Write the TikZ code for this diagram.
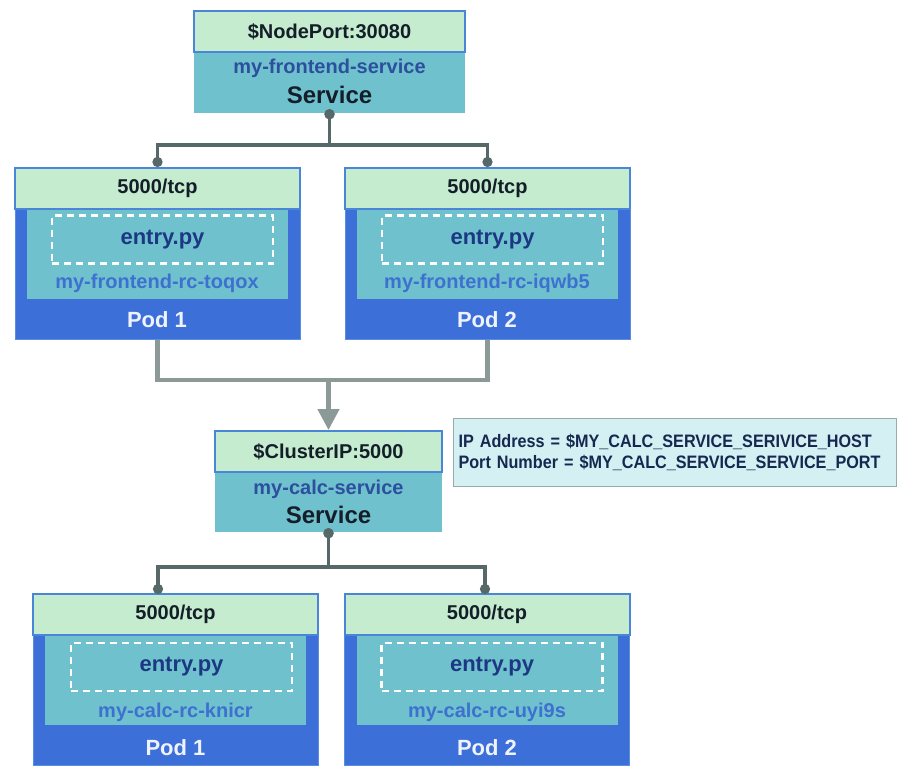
\documentclass[tikz,border=0pt]{standalone}
\usepackage{fontspec}
\setmainfont{Liberation Sans}
\newfontfamily\condfont[FakeStretch=0.9]{Liberation Sans}
\usetikzlibrary{arrows.meta}

\definecolor{portgreen}{RGB}{198,236,208}
\definecolor{portedge}{RGB}{74,134,216}
\definecolor{svcteal}{RGB}{112,193,206}
\definecolor{podblue}{RGB}{61,111,216}
\definecolor{podedge}{RGB}{90,143,224}
\definecolor{wiredark}{RGB}{87,104,104}
\definecolor{wirelight}{RGB}{139,154,150}
\definecolor{namenavy}{RGB}{44,79,158}
\definecolor{filenavy}{RGB}{28,56,130}
\definecolor{rcblue}{RGB}{62,112,208}
\definecolor{svcdark}{RGB}{20,30,40}
\definecolor{podtext}{RGB}{238,243,255}
\definecolor{infofill}{RGB}{212,240,243}
\definecolor{infoedge}{RGB}{150,172,172}
\definecolor{infotext}{RGB}{22,40,80}

\begin{document}
\begin{tikzpicture}[x=1pt, y=-1pt, font=\fontsize{20}{24}\selectfont\bfseries,
    port/.style={draw=portedge, line width=2pt, fill=portgreen, text=svcdark, minimum height=41pt, inner sep=0pt},
    svcbody/.style={fill=svcteal, inner sep=0pt},
    kind/.style={text=svcdark, font=\fontsize{24}{28}\selectfont\bfseries},
    podbox/.style={draw=podedge, line width=1pt, fill=podblue, minimum width=285pt, minimum height=171pt, inner sep=0pt},
    podinner/.style={fill=svcteal, minimum width=261pt, minimum height=90pt, inner sep=0pt},
    filebox/.style={draw=white, dash pattern=on 7pt off 5pt, line width=2.5pt, minimum width=221pt, minimum height=48pt, inner sep=0pt, text=filenavy, font=\fontsize{22}{26}\selectfont\bfseries},
    podlabel/.style={text=podtext, font=\fontsize{22}{26}\selectfont\bfseries},
    wire/.style={draw=wiredark, line width=3.5pt, arrows={Circle[length=10pt]-Circle[length=10pt]}, shorten <=-4pt},
    feed/.style={draw=wirelight, line width=4.5pt, line join=miter},
    infobox/.style={draw=infoedge, line width=1pt, fill=infofill, text=infotext, align=left, text width=433pt, inner xsep=5pt, minimum height=68pt, font=\condfont\fontsize{18}{21}\selectfont\bfseries}]
        \useasboundingbox (0,0) rectangle (907,776);
        \fill[white] (0,0) rectangle (907,776);

        \node[svcbody, minimum width=271pt, minimum height=61pt] (fe svc) at (329.5,82.5) {};
        \node[port, minimum width=271pt] (fe port) at (329.5,31.5) {\$NodePort:30080};
        \node[text=namenavy] (fe name) at (329.5,68) {my-frontend-service};
        \node[kind] (fe kind) at (329.5,95) {Service};

        \node[podbox] (fe pod1) at (157.5,253.5) {};
        \node[podinner] (fe pod1 box) at (157.5,254) {};
        \node[port, minimum width=285pt] (fe pod1 port) at (157.5,188.5) {5000/tcp};
        \node[filebox] (fe pod1 file) at (162.5,239.5) {entry.py};
        \node[text=rcblue] (fe pod1 rc) at (157,283) {my-frontend-rc-toqox};
        \node[podlabel] (fe pod1 label) at (157,320) {Pod 1};

        \node[podbox] (fe pod2) at (487.5,253.5) {};
        \node[podinner] (fe pod2 box) at (487.5,254) {};
        \node[port, minimum width=285pt] (fe pod2 port) at (487.5,188.5) {5000/tcp};
        \node[filebox] (fe pod2 file) at (492.5,239.5) {entry.py};
        \node[text=rcblue] (fe pod2 rc) at (487,283) {my-frontend-rc-iqwb5};
        \node[podlabel] (fe pod2 label) at (487,320) {Pod 2};

        \node[svcbody, minimum width=227pt, minimum height=60pt] (calc svc) at (328.5,502) {};
        \node[port, minimum width=227pt] (calc port) at (328.5,451.5) {\$ClusterIP:5000};
        \node[text=namenavy] (calc name) at (328.5,489) {my-calc-service};
        \node[kind] (calc kind) at (328.5,515) {Service};

        \node[infobox, anchor=north west] (calc env) at (453,418) {IP Address = \$MY\_CALC\_SERVICE\_SERIVICE\_HOST\\Port Number = \$MY\_CALC\_SERVICE\_SERVICE\_PORT};

        \node[podbox] (calc pod1) at (175.5,679.5) {};
        \node[podinner] (calc pod1 box) at (175.5,680) {};
        \node[port, minimum width=285pt] (calc pod1 port) at (175.5,614.5) {5000/tcp};
        \node[filebox] (calc pod1 file) at (181.5,667) {entry.py};
        \node[text=rcblue] (calc pod1 rc) at (175.5,712) {my-calc-rc-knicr};
        \node[podlabel] (calc pod1 label) at (175.5,748) {Pod 1};

        \node[podbox] (calc pod2) at (487,679.5) {};
        \node[podinner] (calc pod2 box) at (487,680) {};
        \node[port, minimum width=285pt] (calc pod2 port) at (487,614.5) {5000/tcp};
        \node[filebox] (calc pod2 file) at (492,667) {entry.py};
        \node[text=rcblue] (calc pod2 rc) at (487,712) {my-calc-rc-uyi9s};
        \node[podlabel] (calc pod2 label) at (487,748) {Pod 2};

        \coordinate (fe split) at (329.5,145);
        \coordinate (fe merge) at (328.5,380);
        \coordinate (calc split) at (328.5,567);
        \coordinate (calc tap1) at (158,594);
        \coordinate (calc tap2) at (485,594);

        \draw[wire] (fe svc.south) -- (fe split) -| (fe pod1 port.north);
        \draw[wire] (fe svc.south) -- (fe split) -| (fe pod2 port.north);
        \draw[feed] (fe pod1.south) |- (fe merge) -| (fe pod2.south);
        \draw[feed, -{Triangle[width=21pt,length=21pt]}] (fe merge) -- (calc port.north);
        \draw[wire] (calc svc.south) -- (calc split) -| (calc tap1);
        \draw[wire] (calc svc.south) -- (calc split) -| (calc tap2);
    \end{tikzpicture}
\end{document}
